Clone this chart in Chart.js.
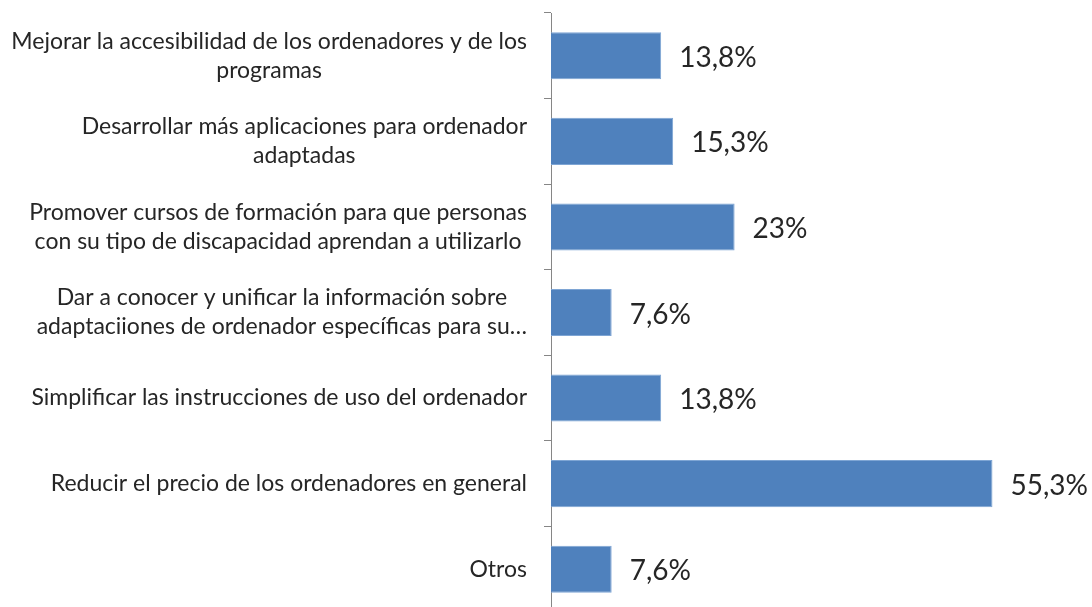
<!DOCTYPE html>
<html>
<head>
<meta charset="utf-8">
<script src="https://cdn.jsdelivr.net/npm/chart.js"></script>
<style>
  html, body { margin: 0; padding: 0; background: #fff; overflow: hidden; }
  #chart { display: block; }
</style>
</head>
<body>
<canvas id="chart" width="1092" height="612"></canvas>
<script>
// categorías (cada línea es una fila del rótulo)
const categorias = [
  ['Mejorar la accesibilidad de los ordenadores y de los', 'programas'],
  ['Desarrollar más aplicaciones para ordenador', 'adaptadas'],
  ['Promover cursos de formación para que personas', 'con su tipo de discapacidad aprendan a utilizarlo'],
  ['Dar a conocer y unificar la información sobre', 'adaptaciiones de ordenador específicas para su…'],
  ['Simplificar las instrucciones de uso del ordenador'],
  ['Reducir el precio de los ordenadores en general'],
  ['Otros']
];
// porcentajes
const valores = [13.8, 15.3, 23, 7.6, 13.8, 55.3, 7.6];
const ejeMax = 60;

const AZUL = '#4f81bd';
const TEXTO = '#262626';
const FUENTE = 'Lato, "Open Sans", sans-serif';

function formatoPct(v) {
  return String(v).replace('.', ',') + '%';
}

// rótulos de categoría: bloque alineado a la derecha, líneas centradas
const rotulosCategoria = {
  id: 'rotulosCategoria',
  afterDraw(chart) {
    const ctx = chart.ctx;
    const y = chart.scales.y;
    const derecha = 527;
    const interlinea = 29;
    ctx.save();
    ctx.font = '23px ' + FUENTE;
    ctx.fillStyle = TEXTO;
    ctx.textAlign = 'center';
    ctx.textBaseline = 'middle';
    categorias.forEach((lineas, i) => {
      const ancho = Math.max(...lineas.map(l => ctx.measureText(l).width));
      const cx = derecha - ancho / 2;
      const cy = y.getPixelForValue(i);
      const y0 = cy - (lineas.length - 1) * interlinea / 2;
      lineas.forEach((l, k) => ctx.fillText(l, cx, y0 + k * interlinea));
    });
    ctx.restore();
  }
};

// etiquetas de valor a la derecha de cada barra
const etiquetasValor = {
  id: 'etiquetasValor',
  afterDatasetsDraw(chart) {
    const ctx = chart.ctx;
    const x = chart.scales.x;
    const y = chart.scales.y;
    ctx.save();
    ctx.font = '28px ' + FUENTE;
    ctx.fillStyle = TEXTO;
    ctx.textAlign = 'left';
    ctx.textBaseline = 'middle';
    valores.forEach((v, i) => {
      ctx.fillText(formatoPct(v), x.getPixelForValue(v) + 18, y.getPixelForValue(i) + 2);
    });
    ctx.restore();
  }
};

new Chart(document.getElementById('chart'), {
  type: 'bar',
  data: {
    labels: categorias.map(l => l.join(' ')),
    datasets: [{
      data: valores,
      backgroundColor: AZUL,
      borderColor: '#7ea5d4',
      borderWidth: 1,
      barPercentage: 0.55,
      categoryPercentage: 1
    }]
  },
  options: {
    indexAxis: 'y',
    responsive: false,
    animation: false,
    layout: { padding: { left: 0, right: 62, top: 13, bottom: 0 } },
    plugins: {
      legend: { display: false },
      tooltip: { enabled: false }
    },
    scales: {
      x: {
        display: false,
        min: 0,
        max: ejeMax
      },
      y: {
        offset: true,
        ticks: { display: false },
        grid: {
          offset: true,
          drawOnChartArea: false,
          drawTicks: true,
          tickLength: 7,
          color: '#868686',
          lineWidth: 1
        },
        border: { color: '#868686', width: 1 },
        afterFit(scale) { scale.width = 551; }
      }
    }
  },
  plugins: [rotulosCategoria, etiquetasValor]
});
</script>
</body>
</html>
